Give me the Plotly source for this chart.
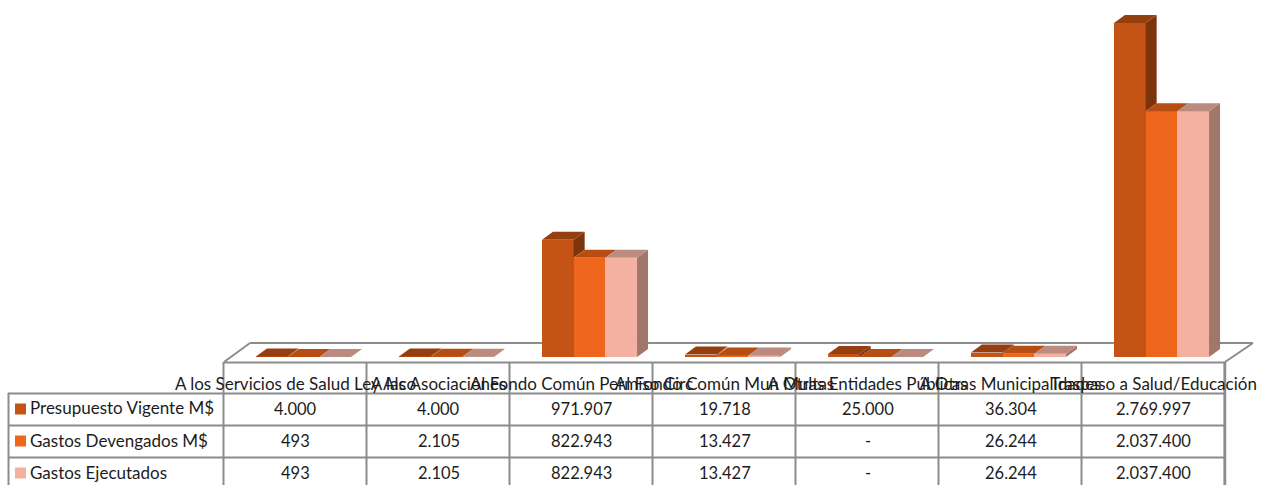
import plotly.graph_objects as go

categories = ["A los Servicios de Salud Ley Alco", "A las Asociaciones", "Al Fondo Común Permiso Circ",
              "Al Fondo Común Mun Multas", "A Otras Entidades Públicas", "A Otras Municipalidades",
              "Traspaso a Salud/Educación"]
series_names = ["Presupuesto Vigente M$", "Gastos Devengados M$", "Gastos Ejecutados"]
presupuesto = [4000, 4000, 971907, 19718, 25000, 36304, 2769997]
devengados = [493, 2105, 822943, 13427, 0, 26244, 2037400]
ejecutados = [493, 2105, 822943, 13427, 0, 26244, 2037400]
series_values = [presupuesto, devengados, ejecutados]

front_colors = ["#C55315", "#EE651C", "#F4B1A1"]
top_colors = ["#953F10", "#B64E14", "#BA8B7E"]
side_colors = ["#7D340D", "#9E4410", "#A1766B"]

W, H = 1261, 485
FONT = "Lato"
FS = 17
FS_VAL = 16.5
TXT = "#1c1c1c"
GRID = "#8C8C8C"
PLOT_B = 372          # pixel row of the bottom of the plot area
BASE = 357            # pixel row of value 0
CAT_W = 143.0
CAT0 = 295.5          # pixel centre of first category
PER_UNIT = 334 / 2769997
BAR_PX = 31.7
SHIFT_PX = 8.0
DX = 11 / CAT_W
DY = 8 / PER_UNIT
bw = BAR_PX / CAT_W
n = len(categories)


def px(p):
    return p / W


def py(p):
    return 1 - p / PLOT_B


fig = go.Figure()
for s, vals in enumerate(series_values):
    xs = [i + SHIFT_PX / CAT_W + (s - 1) * bw for i in range(n)]
    fig.add_trace(go.Bar(x=xs, y=vals, width=bw, name=series_names[s],
                         marker=dict(color=front_colors[s], line=dict(width=0))))

for s, vals in enumerate(series_values):
    next_vals = series_values[s + 1] if s < 2 else [0] * n
    sx, sy, tx, ty = [], [], [], []
    for i, v in enumerate(vals):
        c = i + SHIFT_PX / CAT_W + (s - 1) * bw
        l, r = c - bw / 2, c + bw / 2
        low = min(next_vals[i], v)
        sx += [r, r + DX, r + DX, r, None]
        sy += [v, v + DY, low + DY, low, None]
        tx += [l, r, r + DX, l + DX, None]
        ty += [v, v, v + DY, v + DY, None]
    fig.add_trace(go.Scatter(x=sx, y=sy, fill="toself", mode="lines", line=dict(width=0),
                             fillcolor=side_colors[s], hoverinfo="skip"))
    fig.add_trace(go.Scatter(x=tx, y=ty, fill="toself", mode="lines", line=dict(width=0),
                             fillcolor=top_colors[s], hoverinfo="skip"))

shapes = []


def seg(x0, y0, x1, y1, w=2):
    shapes.append(dict(type="line", xref="paper", yref="paper", x0=px(x0), y0=py(y0), x1=px(x1), y1=py(y1),
                       line=dict(color=GRID, width=w), layer="below"))


# floor
seg(224, 362, 250, 343)
seg(250, 343, 1253, 343)
seg(1253, 343, 1225, 362)
seg(224, 362.5, 1225, 362.5)
# table
COLS = [223.5 + CAT_W * i for i in range(n + 1)]
for x in COLS:
    seg(x, 362, x, 485)
seg(1225, 362, 1225, 485, 2.5)
seg(8.5, 393, 8.5, 485)
ROW_LINES = [393.5, 425.5, 457.5]
for y in ROW_LINES:
    seg(8, y, 1225, y)

annotations = []
ROW_C = [409, 441, 473]
for s, name in enumerate(series_names):
    shapes.append(dict(type="rect", xref="paper", yref="paper", x0=px(15), x1=px(26),
                       y0=py(ROW_C[s] - 5.5), y1=py(ROW_C[s] + 5.5),
                       fillcolor=front_colors[s], line=dict(width=0)))
    annotations.append(dict(xref="paper", yref="paper", x=px(28), y=py(ROW_C[s] - 1), text=name,
                            showarrow=False, xanchor="left", yanchor="middle",
                            font=dict(family=FONT, size=FS, color=TXT)))
    for i, v in enumerate(series_values[s]):
        txt = f"{v:,}".replace(",", ".") if v else "-"
        annotations.append(dict(xref="x", yref="paper", x=i, y=py(ROW_C[s]), text=txt,
                                showarrow=False, xanchor="center", yanchor="middle",
                                font=dict(family=FONT, size=FS_VAL, color=TXT)))

fig.update_layout(
    width=W, height=H, margin=dict(l=0, r=0, t=0, b=H - PLOT_B, pad=0),
    paper_bgcolor="white", plot_bgcolor="rgba(0,0,0,0)",
    showlegend=False, barmode="overlay", bargap=0,
    shapes=shapes, annotations=annotations,
    xaxis=dict(range=[-CAT0 / CAT_W, (W - CAT0) / CAT_W], tickmode="array", tickvals=list(range(n)),
               ticktext=categories, tickangle=0, ticklen=0, showgrid=False, zeroline=False, showline=False,
               tickfont=dict(family=FONT, size=FS, color=TXT)),
    yaxis=dict(range=[-(PLOT_B - BASE) / PER_UNIT, BASE / PER_UNIT], visible=False),
)
fig.write_html("out.html", config={"displayModeBar": False},
               post_script="document.body.style.margin='0';")
